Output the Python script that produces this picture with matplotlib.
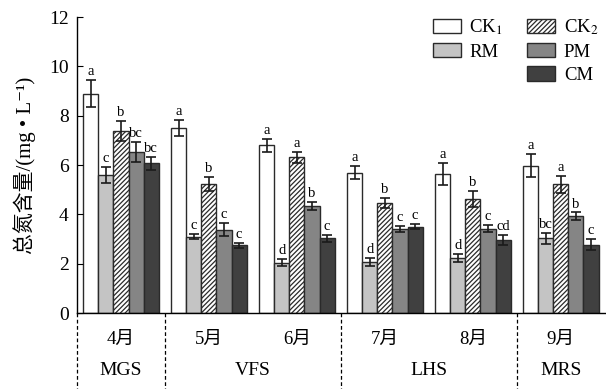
import matplotlib
matplotlib.use("Agg")
import matplotlib.pyplot as plt
from matplotlib.patches import Patch
import numpy as np

plt.rcParams['font.family'] = ['Liberation Serif', 'Noto Sans CJK SC', 'DejaVu Sans']
plt.rcParams['mathtext.fontset'] = 'stix'
plt.rcParams['hatch.linewidth'] = 0.9

months = ['4月', '5月', '6月', '7月', '8月', '9月']
stages = ['MGS', 'VFS', 'LHS', 'MRS']
stage_pos = [0, 1.5, 3.5, 5]
sep_pos = [-0.5, 0.5, 2.5, 4.5]

treatments = ['CK$_1$', 'RM', 'CK$_2$', 'PM', 'CM']

ck1 = [8.90, 7.51, 6.80, 5.69, 5.65, 5.97]
rm = [5.60, 3.09, 2.05, 2.08, 2.24, 3.03]
ck2 = [7.38, 5.22, 6.32, 4.45, 4.62, 5.22]
pm = [6.53, 3.38, 4.35, 3.42, 3.42, 3.93]
cm = [6.07, 2.76, 3.03, 3.50, 2.96, 2.78]

ck1_err = [0.55, 0.31, 0.25, 0.27, 0.44, 0.47]
rm_err = [0.33, 0.10, 0.15, 0.15, 0.17, 0.23]
ck2_err = [0.42, 0.28, 0.23, 0.20, 0.32, 0.35]
pm_err = [0.40, 0.26, 0.15, 0.13, 0.15, 0.15]
cm_err = [0.27, 0.10, 0.13, 0.10, 0.20, 0.22]

ck1_sig = ['a', 'a', 'a', 'a', 'a', 'a']
rm_sig = ['c', 'c', 'd', 'd', 'd', 'bc']
ck2_sig = ['b', 'b', 'a', 'b', 'b', 'a']
pm_sig = ['bc', 'c', 'b', 'c', 'c', 'b']
cm_sig = ['bc', 'c', 'c', 'c', 'cd', 'c']

values = [ck1, rm, ck2, pm, cm]
errors = [ck1_err, rm_err, ck2_err, pm_err, cm_err]
sigs = [ck1_sig, rm_sig, ck2_sig, pm_sig, cm_sig]
colors = ['white', '#c4c4c4', 'white', '#858585', '#404040']
hatches = [None, None, '///////', None, None]

fig = plt.figure(figsize=(6.06, 3.89), dpi=100)
ax = fig.add_axes([0.127, 0.195, 0.871, 0.761])

x = np.arange(len(months))
w = 0.172
for i in range(5):
    pos = x + (i - 2) * w
    ax.bar(pos, values[i], w, color=colors[i], edgecolor='#2a2a2a',
           linewidth=1.0, hatch=hatches[i])
    ax.errorbar(pos, values[i], yerr=errors[i], fmt='none', ecolor='#1a1a1a',
                elinewidth=1.2, capsize=3.5, capthick=1.2)
    for p, v, e, s in zip(pos, values[i], errors[i], sigs[i]):
        ax.text(p, v + e + 0.08, s, ha='center', va='bottom', fontsize=10.5)

ax.set_xlim(-0.5, 5.5)
ax.set_ylim(0, 12)
ax.set_yticks(range(0, 13, 2))
ax.tick_params(axis='y', direction='in', length=4, labelsize=14, pad=6)
ax.set_xticks([])
ax.spines['top'].set_visible(False)
ax.spines['right'].set_visible(False)
ax.spines['left'].set_linewidth(1.0)
ax.spines['bottom'].set_linewidth(1.0)
ax.set_ylabel('总氮含量/(mg • L⁻¹)', fontsize=15, labelpad=9)

trans = ax.get_xaxis_transform()
for s in sep_pos:
    ax.plot([s, s], [0, -0.27], transform=trans, color='black',
            linestyle=(0, (3, 2)), linewidth=0.9, clip_on=False)
for xi, m in zip(x, months):
    ax.text(xi, -0.088, m, transform=trans, ha='center', va='center', fontsize=13.5)
for sp, st in zip(stage_pos, stages):
    ax.text(sp, -0.195, st, transform=trans, ha='center', va='center', fontsize=14)

handles = []
for i in range(5):
    handles.append(Patch(facecolor=colors[i], edgecolor='#2a2a2a', hatch=hatches[i],
                         label=treatments[i]))
blank = Patch(facecolor='none', edgecolor='none', label=' ')
order = [handles[0], handles[1], blank, handles[2], handles[3], handles[4]]
ax.legend(handles=order, ncol=2, loc='upper right', bbox_to_anchor=(1.02, 1.055),
          frameon=False, fontsize=13.5, handlelength=1.5, handleheight=0.8,
          columnspacing=1.3, labelspacing=0.3, handletextpad=0.45)

fig.savefig('out.png', dpi=100)
